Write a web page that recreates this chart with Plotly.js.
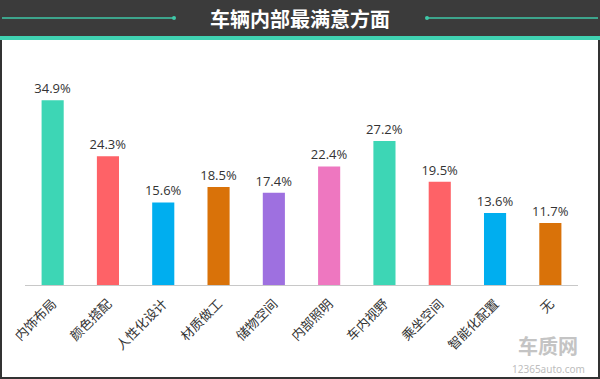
<!DOCTYPE html>
<html><head><meta charset="utf-8">
<script src="https://cdn.plot.ly/plotly-3.0.1.min.js"></script>
<style>html,body{margin:0;padding:0;background:#fff;}#c{width:600px;height:379px;}</style>
</head><body><div id="c"></div>
<script>
const categories = ["内饰布局","颜色搭配","人性化设计","材质做工","储物空间","内部照明","车内视野","乘坐空间","智能化配置","无"];
const values = [34.9, 24.3, 15.6, 18.5, 17.4, 22.4, 27.2, 19.5, 13.6, 11.7];
const labels = ["34.9%","24.3%","15.6%","18.5%","17.4%","22.4%","27.2%","19.5%","13.6%","11.7%"];
const colors = ["#3dd6b5","#fe6267","#00aeef","#d97209","#9e70e0","#ee77c0","#3dd6b5","#fe6267","#00aeef","#d97209"];

const W=600,H=379,L=25,R=22,T=70,B=94;
const pw=W-L-R, ph=H-T-B;
const px=x=>(x-L)/pw, py=y=>(H-B-y)/ph;
const shapes=[
 {type:'rect',xref:'paper',yref:'paper',x0:px(0),x1:px(600),y0:py(0),y1:py(37),fillcolor:'#3b3b3b',line:{width:0},layer:'below'},
 {type:'rect',xref:'paper',yref:'paper',x0:px(0),x1:px(600),y0:py(36),y1:py(40),fillcolor:'#40d2b2',line:{width:0}},
 {type:'line',xref:'paper',yref:'paper',x0:px(2),x1:px(174),y0:py(18),y1:py(18),line:{color:'#3fc8a8',width:1.5}},
 {type:'line',xref:'paper',yref:'paper',x0:px(427),x1:px(598),y0:py(18),y1:py(18),line:{color:'#3fc8a8',width:1.5}},
 {type:'circle',xref:'paper',yref:'paper',x0:px(172),x1:px(176),y0:py(16),y1:py(20),fillcolor:'#3fc8a8',line:{width:0}},
 {type:'circle',xref:'paper',yref:'paper',x0:px(425),x1:px(429),y0:py(16),y1:py(20),fillcolor:'#3fc8a8',line:{width:0}},
 {type:'rect',xref:'paper',yref:'paper',x0:px(0),x1:px(2),y0:py(40),y1:py(379),fillcolor:'#333',line:{width:0}},
 {type:'rect',xref:'paper',yref:'paper',x0:px(598),x1:px(600),y0:py(40),y1:py(379),fillcolor:'#333',line:{width:0}},
 {type:'rect',xref:'paper',yref:'paper',x0:px(0),x1:px(600),y0:py(377),y1:py(379),fillcolor:'#333',line:{width:0}}
];
const annotations=[
 {xref:'paper',yref:'paper',x:px(300),y:py(19),text:'<b>车辆内部最满意方面</b>',showarrow:false,font:{family:'Noto Sans CJK SC',size:20,color:'#ffffff'},xanchor:'center',yanchor:'middle'},
 {xref:'paper',yref:'paper',x:px(548),y:py(345),text:'<b>车质网</b>',showarrow:false,font:{family:'Noto Sans CJK SC',size:20,color:'#c4c4c4'},xanchor:'center',yanchor:'middle'},
 {xref:'paper',yref:'paper',x:px(548),y:py(369),text:'12365auto.com',showarrow:false,font:{family:'Noto Sans',size:10,color:'#bdbdbd'},xanchor:'center',yanchor:'middle'}
];
Plotly.newPlot('c',[{
 type:'bar',x:categories,y:values,text:labels,textposition:'outside',cliponaxis:false,constraintext:'none',
 marker:{color:colors},textfont:{family:'Open Sans',size:13,color:'#333'},hoverinfo:'none'
}],{
 width:W,height:H,margin:{l:L,r:R,t:T,b:B},paper_bgcolor:'#fff',plot_bgcolor:'#fff',
 bargap:0.6,showlegend:false,
 xaxis:{tickangle:-45,tickfont:{family:'Noto Sans CJK SC',size:13,color:'#333'},showline:true,linecolor:'#c8c8c8',linewidth:1,ticks:'',ticklabelstandoff:5,fixedrange:true},
 yaxis:{range:[0,40.6],visible:false,showgrid:false,zeroline:false,fixedrange:true},
 shapes:shapes,annotations:annotations
},{displayModeBar:false,staticPlot:true});
</script></body></html>
